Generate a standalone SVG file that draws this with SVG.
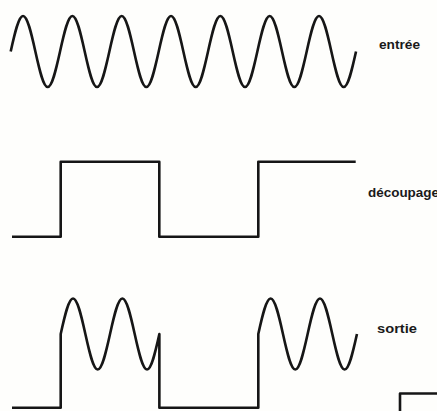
<svg xmlns="http://www.w3.org/2000/svg" width="437" height="411" viewBox="0 0 437 411">
  <style>
    .wave { fill: none; stroke: #161616; stroke-width: 2.6; stroke-linejoin: round; stroke-linecap: butt; }
    .lbl { font-family: "Liberation Sans", Arial, sans-serif; font-weight: bold; font-size: 12px; fill: #1a1a1a; }
  </style>
  <rect width="437" height="411" fill="#fefefc"/>
  <g id="entree">
    <path class="wave" d="M10.7,51.5 c4.022,-18.19 7.869,-35.5 12.333,-35.5 s8.311,17.31 12.333,35.5 s7.869,35.5 12.333,35.5 s8.311,-17.31 12.333,-35.5
      s7.869,-35.5 12.333,-35.5 s8.311,17.31 12.333,35.5 s7.869,35.5 12.333,35.5 s8.311,-17.31 12.333,-35.5
      s7.869,-35.5 12.333,-35.5 s8.311,17.31 12.333,35.5 s7.869,35.5 12.333,35.5 s8.311,-17.31 12.333,-35.5
      s7.869,-35.5 12.333,-35.5 s8.311,17.31 12.333,35.5 s7.869,35.5 12.333,35.5 s8.311,-17.31 12.333,-35.5
      s7.869,-35.5 12.333,-35.5 s8.311,17.31 12.333,35.5 s7.869,35.5 12.333,35.5 s8.311,-17.31 12.333,-35.5
      s7.869,-35.5 12.333,-35.5 s8.311,17.31 12.333,35.5 s7.869,35.5 12.333,35.5 s8.311,-17.31 12.333,-35.5
      s7.869,-35.5 12.333,-35.5 s8.311,17.31 12.333,35.5 s7.869,35.5 12.333,35.5 s8.311,-17.31 12.333,-35.5"/>
    <text class="lbl" x="379" y="49" textLength="41" lengthAdjust="spacingAndGlyphs">entrée</text>
  </g>
  <g id="decoupage">
    <path class="wave" d="M12,236.7 H60.7 V161.7 H159.3 V236.7 H258.3 V161.7 H355.7"/>
    <text class="lbl" x="368" y="197" textLength="71" lengthAdjust="spacingAndGlyphs">découpage</text>
  </g>
  <g id="sortie">
    <path class="wave" d="M12,407.7 H60.7 V334 c4.022,-18.19 7.869,-35.5 12.333,-35.5 s8.311,17.31 12.333,35.5 s7.869,35.5 12.333,35.5 s8.311,-17.31 12.333,-35.5
      s7.869,-35.5 12.333,-35.5 s8.311,17.31 12.333,35.5 s7.869,35.5 12.333,35.5 s8.311,-17.31 12.333,-35.5
      V407.7 H258.3 V334 c4.022,-18.19 7.869,-35.5 12.333,-35.5 s8.311,17.31 12.333,35.5 s7.869,35.5 12.333,35.5 s8.311,-17.31 12.333,-35.5
      s7.869,-35.5 12.333,-35.5 s8.311,17.31 12.333,35.5 s7.869,35.5 12.333,35.5 s8.311,-17.31 12.333,-35.5"/>
    <text class="lbl" x="377" y="333" textLength="40" lengthAdjust="spacingAndGlyphs">sortie</text>
  </g>
  <g id="next-figure">
    <path class="wave" d="M400,411 V393.5 H437"/>
  </g>
</svg>
